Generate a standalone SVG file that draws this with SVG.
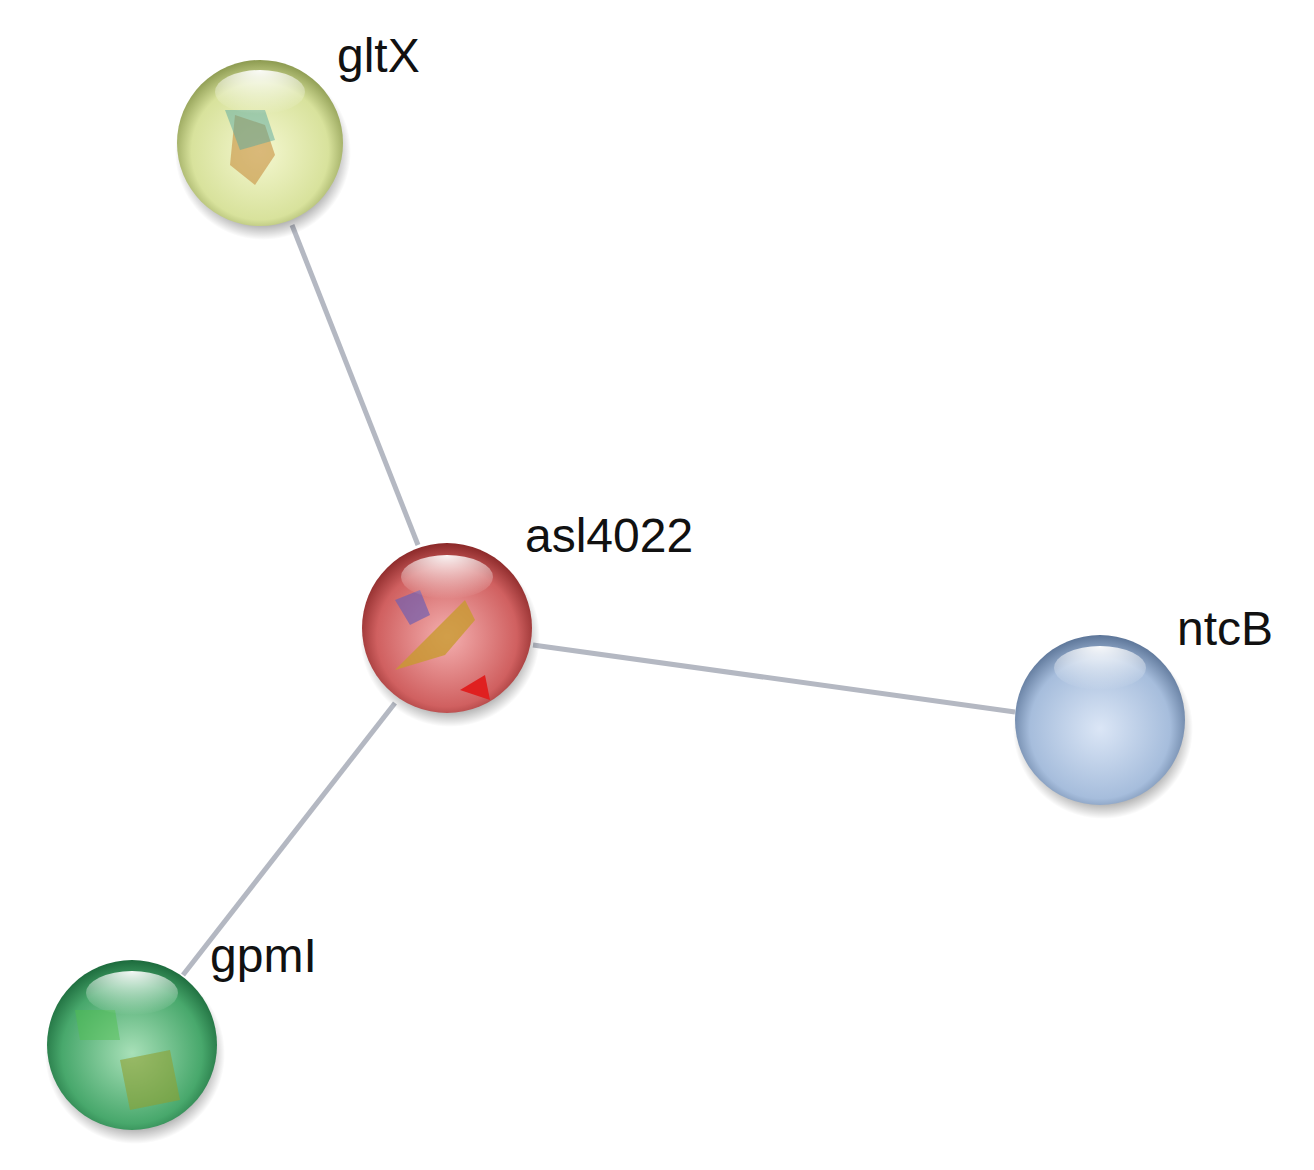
<svg xmlns="http://www.w3.org/2000/svg" width="1314" height="1170" viewBox="0 0 1314 1170">
<defs>
<style>
.lbl{font-family:"Liberation Sans",Arial,sans-serif;font-size:40px;fill:#111}
.edge{stroke:#b4b8c2;stroke-width:5;fill:none}
</style>
<radialGradient id="hl" cx="50%" cy="0%" r="100%"><stop offset="0" stop-color="#fff" stop-opacity="0.95"/><stop offset="1" stop-color="#fff" stop-opacity="0"/></radialGradient>
<radialGradient id="sh" cx="50%" cy="50%" r="50%"><stop offset="0.8" stop-color="#000" stop-opacity="0.35"/><stop offset="1" stop-color="#000" stop-opacity="0"/></radialGradient>
<radialGradient id="gY" cx="50%" cy="55%" r="55%"><stop offset="0" stop-color="#f4f7d0"/><stop offset="0.75" stop-color="#d8e29c"/><stop offset="1" stop-color="#8c9a50"/></radialGradient>
<radialGradient id="gR" cx="50%" cy="55%" r="55%"><stop offset="0" stop-color="#f4b0b0"/><stop offset="0.75" stop-color="#d06060"/><stop offset="1" stop-color="#8a2828"/></radialGradient>
<radialGradient id="gB" cx="50%" cy="55%" r="55%"><stop offset="0" stop-color="#dbe6f6"/><stop offset="0.75" stop-color="#a6bddc"/><stop offset="1" stop-color="#5c7598"/></radialGradient>
<radialGradient id="gG" cx="50%" cy="55%" r="55%"><stop offset="0" stop-color="#a8e0b8"/><stop offset="0.75" stop-color="#48a86c"/><stop offset="1" stop-color="#1c6a3c"/></radialGradient>
</defs>
<rect width="1314" height="1170" fill="#fff"/>
<g id="edges">
<line class="edge" x1="292" y1="225" x2="418" y2="545"/>
<line class="edge" x1="533" y1="645" x2="1015" y2="712"/>
<line class="edge" x1="395" y1="703" x2="183" y2="975"/>
</g>
<g id="gltX">
<ellipse cx="263" cy="152" rx="88" ry="88" fill="url(#sh)"/>
<circle cx="260" cy="143" r="83" fill="url(#gY)"/>
<path d="M235 115 l30 10 l10 30 l-20 30 l-25 -20 z" fill="#c89040" opacity="0.6"/>
<path d="M225 110 l40 0 l10 30 l-35 10 z" fill="#58a8a0" opacity="0.5"/>
<ellipse cx="260" cy="92" rx="45" ry="22" fill="url(#hl)"/>
<text class="lbl" x="337" y="72" style="font-size:48px">gltX</text>
</g>
<g id="asl4022">
<ellipse cx="450" cy="637" rx="90" ry="90" fill="url(#sh)"/>
<circle cx="447" cy="628" r="85" fill="url(#gR)"/>
<path d="M395 670 l40 -40 l30 -30 l10 20 l-30 35 z" fill="#c89a30" opacity="0.8"/>
<path d="M395 600 l25 -10 l10 25 l-20 10 z" fill="#7060b0" opacity="0.7"/>
<path d="M460 690 l25 -15 l5 25 z" fill="#e02020"/>
<ellipse cx="447" cy="577" rx="46" ry="22" fill="url(#hl)"/>
<text class="lbl" x="525" y="552" style="font-size:48px">asl4022</text>
</g>
<g id="ntcB">
<ellipse cx="1103" cy="729" rx="90" ry="90" fill="url(#sh)"/>
<circle cx="1100" cy="720" r="85" fill="url(#gB)"/>
<ellipse cx="1100" cy="668" rx="46" ry="22" fill="url(#hl)"/>
<text class="lbl" x="1177" y="645" style="font-size:48px">ntcB</text>
</g>
<g id="gpmI">
<ellipse cx="135" cy="1054" rx="90" ry="90" fill="url(#sh)"/>
<circle cx="132" cy="1045" r="85" fill="url(#gG)"/>
<path d="M120 1060 l50 -10 l10 50 l-50 10 z" fill="#90a030" opacity="0.6"/>
<path d="M75 1010 l40 0 l5 30 l-40 0 z" fill="#50c050" opacity="0.5"/>
<ellipse cx="132" cy="993" rx="46" ry="22" fill="url(#hl)"/>
<text class="lbl" x="210" y="972" style="font-size:48px">gpmI</text>
</g>
</svg>
